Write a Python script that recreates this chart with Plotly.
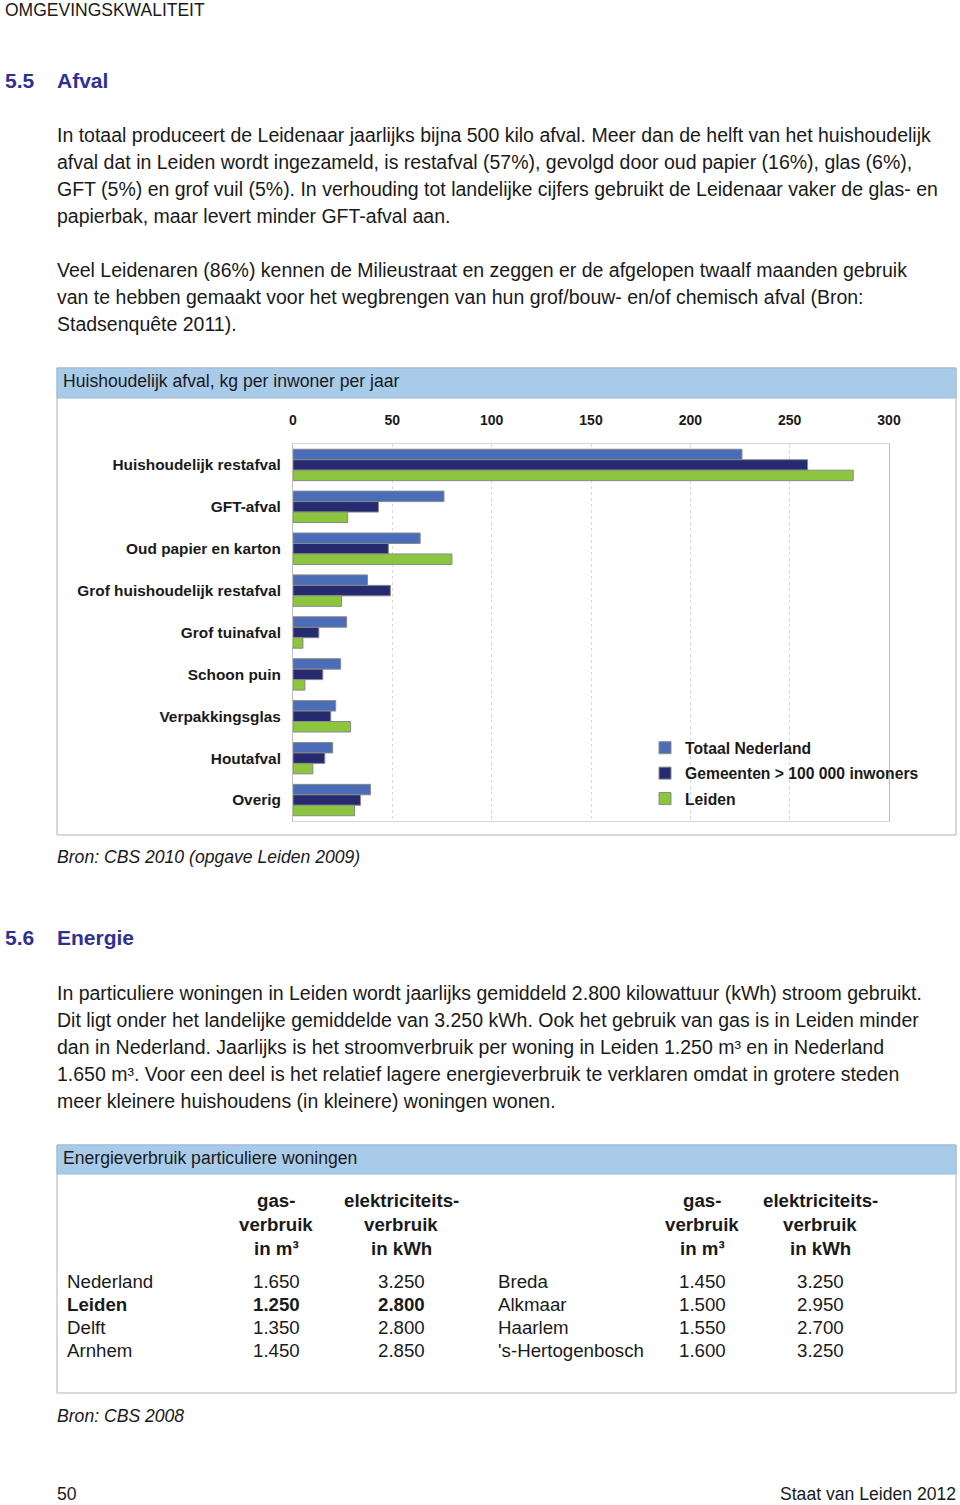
import plotly.graph_objects as go

W, H = 960, 1505

def X(px):
    return px / W

def Y(py):
    return 1 - py / H

# ---------------- data ----------------
categories = ["Huishoudelijk restafval", "GFT-afval", "Oud papier en karton",
              "Grof huishoudelijk restafval", "Grof tuinafval", "Schoon puin",
              "Verpakkingsglas", "Houtafval", "Overig"]
totaal_nederland = [226, 76, 64, 37.5, 27, 24, 21.5, 20, 39]
gemeenten_100000 = [259, 43, 48, 49, 13, 15, 19, 16, 34]
leiden = [282, 27.5, 80, 24.5, 5, 6, 29, 10, 31]
series_names = ["Totaal Nederland", "Gemeenten > 100 000 inwoners", "Leiden"]
x_ticks = [0, 50, 100, 150, 200, 250, 300]

cities_left = ["Nederland", "Leiden", "Delft", "Arnhem"]
gas_left = [1650, 1250, 1350, 1450]
elec_left = [3250, 2800, 2800, 2850]
cities_right = ["Breda", "Alkmaar", "Haarlem", "'s-Hertogenbosch"]
gas_right = [1450, 1500, 1550, 1600]
elec_right = [3250, 2950, 2700, 3250]
bold_city = "Leiden"

gas_header = ["gas-", "verbruik", "in m³"]
elec_header = ["elektriciteits-", "verbruik", "in kWh"]

para1 = ["In totaal produceert de Leidenaar jaarlijks bijna 500 kilo afval. Meer dan de helft van het huishoudelijk",
         "afval dat in Leiden wordt ingezameld, is restafval (57%), gevolgd door oud papier (16%), glas (6%),",
         "GFT (5%) en grof vuil (5%). In verhouding tot landelijke cijfers gebruikt de Leidenaar vaker de glas- en",
         "papierbak, maar levert minder GFT-afval aan."]
para2 = ["Veel Leidenaren (86%) kennen de Milieustraat en zeggen er de afgelopen twaalf maanden gebruik",
         "van te hebben gemaakt voor het wegbrengen van hun grof/bouw- en/of chemisch afval (Bron:",
         "Stadsenquête 2011)."]
para3 = ["In particuliere woningen in Leiden wordt jaarlijks gemiddeld 2.800 kilowattuur (kWh) stroom gebruikt.",
         "Dit ligt onder het landelijke gemiddelde van 3.250 kWh. Ook het gebruik van gas is in Leiden minder",
         "dan in Nederland. Jaarlijks is het stroomverbruik per woning in Leiden 1.250 m³ en in Nederland",
         "1.650 m³. Voor een deel is het relatief lagere energieverbruik te verklaren omdat in grotere steden",
         "meer kleinere huishoudens (in kleinere) woningen wonen."]

# ---------------- styles ----------------
FONT = "Liberation Sans, Arial, sans-serif"
TXT = "#1a1a1a"
BLUE_HEAD = "#2e3191"
BAND = "#a9cbea"
BOX = "#b4b4b4"
colors = ["#4b6cb7", "#262a6e", "#8cc63e"]
BODY = 19.5
SMALL = 17.6
TABLE = 18.7

def nl(v):
    return f"{v:,}".replace(",", ".")

fig = go.Figure()
for name, vals, col in zip(series_names, [totaal_nederland, gemeenten_100000, leiden], colors):
    fig.add_trace(go.Bar(
        y=categories, x=vals, name=f"<b>{name}</b>", orientation="h",
        marker=dict(color=col, line=dict(color="#8a8a8a", width=1)),
        legendgroup=name, hoverinfo="skip"))

ann = []

def text(px, py, s, size=BODY, color=TXT, xanchor="left", bold=False, italic=False):
    if bold:
        s = f"<b>{s}</b>"
    if italic:
        s = f"<i>{s}</i>"
    ann.append(dict(x=X(px), y=Y(py), xref="paper", yref="paper", text=s,
                    showarrow=False, xanchor=xanchor, yanchor="middle",
                    borderpad=0, borderwidth=0,
                    font=dict(family=FONT, size=size, color=color)))

# header
text(5, 10, "OMGEVINGSKWALITEIT", size=17.5)
text(5, 80, "5.5", size=21, color=BLUE_HEAD, bold=True)
text(57, 80, "Afval", size=21, color=BLUE_HEAD, bold=True)
for i, line in enumerate(para1):
    text(57, 135 + 27 * i, line)
for i, line in enumerate(para2):
    text(57, 270 + 27 * i, line)

# chart box
text(63, 381, "Huishoudelijk afval, kg per inwoner per jaar", size=SMALL)
text(57, 857, "Bron: CBS 2010 (opgave Leiden 2009)", size=SMALL, italic=True)

# energie
text(5, 937, "5.6", size=21, color=BLUE_HEAD, bold=True)
text(57, 937, "Energie", size=21, color=BLUE_HEAD, bold=True)
for i, line in enumerate(para3):
    text(57, 993 + 27 * i, line)
text(63, 1158, "Energieverbruik particuliere woningen", size=SMALL)

# table
for block in [(276, 401, cities_left, gas_left, elec_left, 67),
              (702, 820, cities_right, gas_right, elec_right, 498)]:
    gx, ex, cities, gas, elec, nx = block
    for j, h in enumerate(gas_header):
        text(gx, 1200 + 24 * j, h, size=TABLE, xanchor="center", bold=True)
    for j, h in enumerate(elec_header):
        text(ex, 1200 + 24 * j, h, size=TABLE, xanchor="center", bold=True)
    for i, c in enumerate(cities):
        b = c == bold_city
        yy = 1281 + 23 * i
        text(nx, yy, c, size=TABLE, bold=b)
        text(gx, yy, nl(gas[i]), size=TABLE, xanchor="center", bold=b)
        text(ex, yy, nl(elec[i]), size=TABLE, xanchor="center", bold=b)

text(57, 1416, "Bron: CBS 2008", size=SMALL, italic=True)
text(57, 1494, "50", size=SMALL)
text(956, 1494, "Staat van Leiden 2012", size=SMALL, xanchor="right")

shapes = []
def rect(x0, y0, x1, y1, fill="rgba(0,0,0,0)", line=BOX, layer="below"):
    shapes.append(dict(type="rect", xref="paper", yref="paper",
                       x0=X(x0), x1=X(x1), y0=Y(y1), y1=Y(y0),
                       fillcolor=fill, line=dict(color=line, width=1), layer=layer))

rect(57, 368, 956, 835)
rect(57, 368, 956, 398, fill=BAND, line="#9bbbd8")
rect(57, 1145, 956, 1393)
rect(57, 1145, 956, 1174, fill=BAND, line="#9bbbd8")

fig.update_layout(
    template="none",
    width=W, height=H, autosize=False,
    margin=dict(l=0, r=0, t=0, b=0, pad=0, autoexpand=False),
    paper_bgcolor="white", plot_bgcolor="white",
    barmode="group", bargap=0.25, bargroupgap=0.0,
    annotations=ann, shapes=shapes,
    showlegend=True,
    legend=dict(x=X(645), y=Y(731), xanchor="left", yanchor="top",
                font=dict(family=FONT, size=15.7, color=TXT),
                bgcolor="rgba(0,0,0,0)", borderwidth=0, itemwidth=30, tracegroupgap=2,
                traceorder="grouped", itemclick=False, itemdoubleclick=False),
    xaxis=dict(domain=[X(293), X(889)], range=[0, 300], side="top",
               tickvals=x_ticks, ticktext=[f"<b>{t}</b>" for t in x_ticks],
               tickfont=dict(family=FONT, size=14, color=TXT),
               showgrid=True, gridcolor="#d8d8d8", griddash="dot", gridwidth=1,
               zeroline=False, showline=True, linecolor="#d6d6d6", mirror=True,
               ticks="", ticklabelstandoff=12, fixedrange=True, automargin=False),
    yaxis=dict(domain=[Y(821), Y(444)], autorange="reversed",
               categoryorder="array", categoryarray=categories,
               tickvals=categories, ticktext=[f"<b>{c}</b>" for c in categories],
               tickfont=dict(family=FONT, size=15.4, color=TXT),
               showgrid=False, zeroline=False, showline=True,
               linecolor="#bdbdbd", mirror=True, ticks="", ticklabelstandoff=8,
               fixedrange=True, automargin=False),
    hovermode=False,
)

fig.write_html("out.html", config={"displayModeBar": False},
               post_script="document.body.style.margin='0';document.body.style.overflow='hidden';document.documentElement.style.overflow='hidden';")
